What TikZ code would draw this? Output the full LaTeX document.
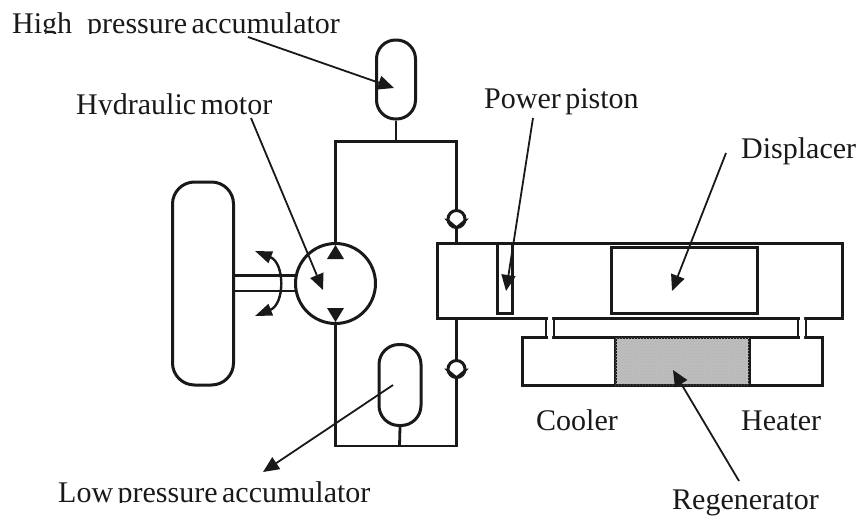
\documentclass[tikz,border=0pt]{standalone}
\usepackage{fontspec}
\setmainfont{Liberation Serif}
\usetikzlibrary{arrows.meta,patterns}
\definecolor{regen}{gray}{0.74}
\definecolor{ink}{gray}{0.1}
\tikzset{
  x=1pt,y=-1pt,
  pipe/.style={draw=ink,line width=2.8pt},
  body/.style={draw=ink,line width=3pt,fill=white},
  leader/.style={draw=ink,line width=1.8pt,-{Triangle[length=16pt,width=14pt]}},
  lbl/.style={font=\fontsize{30pt}{32pt}\selectfont,inner sep=0pt,anchor=base west,text=ink},
  tip/.style={fill=ink,draw=none},
  mask/.style={fill=white,draw=none}
}
\begin{document}
\begin{tikzpicture}
\useasboundingbox (0,0) rectangle (859,517);
% labels
\node[lbl] (t1) at (12,33) {High\hspace{0.5em}pressure\hspace{0.15em}accumulator};
\node[lbl] (t2) at (76,114) {Hydraulic\hspace{0.15em}motor};
\node[lbl] (t3) at (484,108) {Power\hspace{0.15em}piston};
\node[lbl] (t4) at (741,158) {Displacer};
\node[lbl] (t5) at (536,430) {Cooler};
\node[lbl] (t6) at (741,430) {Heater};
\node[lbl] (t7) at (58,502) {Low\hspace{0.15em}pressure\hspace{0.15em}accumulator};
\node[lbl] (t8) at (672,509.5) {Regenerator};
% the reference crops the descenders of these words
\fill[mask] (30,34) rectangle (110,46);
\fill[mask] (90,115) rectangle (130,127);
\fill[mask] (110,503) rectangle (145,515);
% pipes
\coordinate (mtop) at (335.5,243);
\coordinate (tl) at (335.5,141.5);
\coordinate (tr) at (456.5,141.5);
\coordinate (cyltop) at (456.5,243);
\coordinate (cylbot) at (456.5,318);
\coordinate (br) at (456.5,446);
\coordinate (bl) at (335.5,446);
\coordinate (mbot) at (335.5,323);
\draw[pipe,line join=miter] (mtop) -- (tl) -- (tr) -- (cyltop);
\draw[pipe,line join=miter] (cylbot) -- (br) -- (bl) -- (mbot);
\coordinate (hstub) at (396,141.5);
\coordinate (lstub) at (399.5,446);
% accumulators
\node[body,rounded corners=19pt,minimum width=39pt,minimum height=79pt,inner sep=0pt] (hacc) at (396,79.5) {};
\node[body,rounded corners=20pt,minimum width=42pt,minimum height=81pt,inner sep=0pt] (lacc) at (400,385) {};
\draw[pipe] (hacc.south) -- (hstub);
\draw[pipe] (lacc.south) -- (lstub);
% wheel and shaft
\node[body,rounded corners=22pt,minimum width=61pt,minimum height=203pt,inner sep=0pt] (wheel) at (203,283.5) {};
\coordinate (s1) at (234,275.5);\coordinate (s2) at (234,291);
\coordinate (s3) at (296,275.5);\coordinate (s4) at (296,291);
\draw[pipe] (s1) -- (s3) (s2) -- (s4);
% motor
\node[body,circle,minimum size=80pt,inner sep=0pt] (motor) at (335.5,283.5) {};
\fill[tip] (335.5,245) -- (327,259) -- (344,259) -- cycle;
\fill[tip] (335.5,322) -- (327,308) -- (344,308) -- cycle;
% rotation arrow
\coordinate (rota) at (255,251);
\coordinate (rotb) at (255,316);
\draw[draw=ink,line width=2.4pt,{Triangle[length=17pt,width=12pt]}-{Triangle[length=17pt,width=12pt]}] (rota) .. controls (285,263) and (285,304) .. (rotb);
% check valves
\node[body,circle,minimum size=17pt,inner sep=0pt] (cv1) at (456.5,219) {};
\node[body,circle,minimum size=17pt,inner sep=0pt] (cv2) at (456.5,369) {};
\fill[tip] (444,218.5) -- (456.5,230) -- (469,218.5) -- (465,219) -- (456.5,226) -- (448,219) -- cycle;
\fill[tip] (444,368.5) -- (456.5,380) -- (469,368.5) -- (465,369) -- (456.5,376) -- (448,369) -- cycle;
% cylinder
\node[body,minimum width=405pt,minimum height=75pt,inner sep=0pt] (cyl) at (639.5,280.5) {};
\node[body,minimum width=15pt,minimum height=70pt,inner sep=0pt] (piston) at (504.5,278) {};
\node[body,minimum width=146pt,minimum height=66pt,inner sep=0pt] (disp) at (684,280) {};
% lower block
\node[body,minimum width=300pt,minimum height=48pt,inner sep=0pt] (lower) at (672,361) {};
\node[draw=ink,line width=3pt,fill=regen,postaction={pattern=crosshatch dots,pattern color=gray!60},minimum width=134pt,minimum height=48pt,inner sep=0pt] (regen) at (682,361) {};
% ducts
\fill[mask] (548,316) rectangle (552,339) (800,316) rectangle (804,339);
\draw[pipe,line width=2.4pt] (546,317) -- (546,338) (554,317) -- (554,338) (798,317) -- (798,338) (806,317) -- (806,338);
% leaders
\coordinate (a1s) at (248,37);\coordinate (a1e) at (394,88);
\coordinate (a2s) at (251,118);\coordinate (a2e) at (323,290);
\coordinate (a3s) at (533,118);\coordinate (a3e) at (506,291);
\coordinate (a4s) at (726,153);\coordinate (a4e) at (672,291);
\coordinate (a5s) at (739,481);\coordinate (a5e) at (673,370);
\coordinate (a6s) at (393,385);\coordinate (a6e) at (263,472);
\draw[leader] (a1s) -- (a1e);
\draw[leader] (a2s) -- (a2e);
\draw[leader] (a3s) -- (a3e);
\draw[leader] (a4s) -- (a4e);
\draw[leader] (a5s) -- (a5e);
\draw[leader] (a6s) -- (a6e);
\end{tikzpicture}
\end{document}
